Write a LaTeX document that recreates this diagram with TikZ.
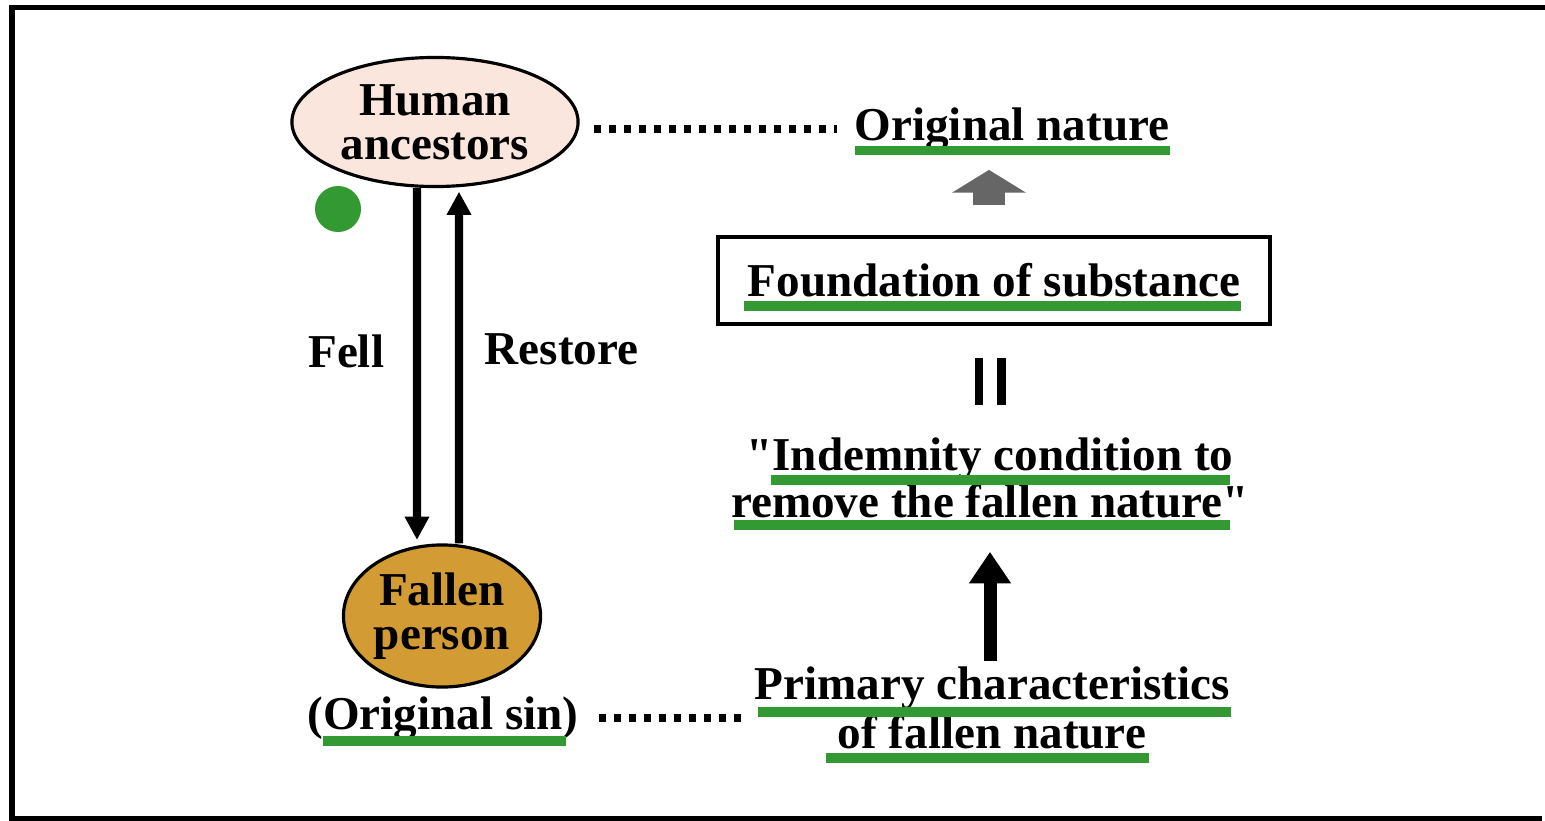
\documentclass[tikz,border=0pt]{standalone}
\usepackage{fontspec}
\setmainfont{Liberation Serif}
\usetikzlibrary{arrows.meta, shapes.geometric}

\definecolor{ulgreen}{HTML}{339933}
\definecolor{ancfill}{HTML}{FAE6DC}
\definecolor{fallfill}{HTML}{D39B33}
\definecolor{upgray}{HTML}{666666}

\tikzset{
  lbl/.style={font=\fontsize{13.4}{12}\selectfont\bfseries, inner sep=3pt, align=center},
  oval/.style={lbl, ellipse, draw, line width=0.9pt, inner sep=0pt},
  dotline/.style={line width=2.2pt, dash pattern=on 2.1pt off 2.17pt},
  thinarrow/.style={->, line width=2.3pt},
}

\begin{document}
\begin{tikzpicture}[x=0.01cm, y=-0.01cm, >={Triangle[width=6.6pt,length=6.6pt]}, shorten >=1pt, auto]
\useasboundingbox (0,0) rectangle (1545,821);

% frame, open on the right
\draw[line width=1.5pt] (1545,7.5) -- (12,7.5) -- (12,819) -- (1545,819);

% define the ovals
  \node[oval, fill=ancfill, minimum width=2.86cm, minimum height=1.29cm,
        font=\fontsize{13.4}{12.4}\selectfont\bfseries] (anc) at (435,122) {Human\\ancestors};
  \node[oval, fill=fallfill, minimum width=1.97cm, minimum height=1.42cm,
        font=\fontsize{13.4}{12.4}\selectfont\bfseries] (fal) at (442,616) {Fallen\\person};
  \node[lbl] (sin) at (443,718) {(Original sin)};
  \node[circle, fill=ulgreen, minimum size=0.46cm, inner sep=0pt] (dot) at (338,209) {};

% define the right column
  \node[lbl] (orig) at (1012,129) {Original nature};
  \node[lbl, draw, line width=1.2pt, minimum width=5.51cm, minimum height=0.87cm] (fos) at (994,280.5) {Foundation of substance};
  \node[lbl] (ind) at (990,478) {\textquotedbl Indemnity condition to\\remove the fallen nature\textquotedbl};
  \node[lbl, font=\fontsize{13.4}{13.7}\selectfont\bfseries] (prim) at (992,708) {Primary characteristics\\of fallen nature};

% the equal bars
  \fill (975,358) rectangle (983,405);
  \fill (997,358) rectangle (1006,405);

% green underlines
  \fill[ulgreen] (855,146) rectangle (1170,155);
  \fill[ulgreen] (744,301) rectangle (1241,311);
  \fill[ulgreen] (771,475) rectangle (1230,485);
  \fill[ulgreen] (734,520) rectangle (1230,530);
  \fill[ulgreen] (758,707) rectangle (1231,717);
  \fill[ulgreen] (826,753) rectangle (1149,763);
  \fill[ulgreen] (323,736) rectangle (566,746);

% define the links
  \path[thinarrow] ([xshift=-0.18cm]anc.south) edge node[lbl, swap, pos=0.46, inner sep=8.2pt] (fell) {Fell} ([xshift=-0.25cm]fal.north)
        ([xshift=0.17cm]fal.north) edge node[lbl, swap, pos=0.545, inner sep=6.2pt] (rest) {Restore} ([xshift=0.24cm]anc.south);
  \draw[dotline, shorten <=4pt, shorten >=1.8pt] (anc.east |- orig.west) -- (orig.west);
  \draw[dotline, shorten <=2.5pt, shorten >=0pt] (sin.east) -- (sin.east -| prim.west);
  \draw[line width=3.7pt, shorten <=-1.5pt, shorten >=6.4pt, -{Triangle[width=11.4pt,length=9pt]}] (prim.north -| ind.south) -- (ind.south);
  \draw[upgray, line width=9pt, shorten <=8.5pt, shorten >=2.3pt, -{Triangle[width=20.8pt,length=6.5pt]}] ([xshift=-0.05cm]fos.north) -- ([xshift=-0.05cm]fos.north |- orig.south);

\end{tikzpicture}
\end{document}
